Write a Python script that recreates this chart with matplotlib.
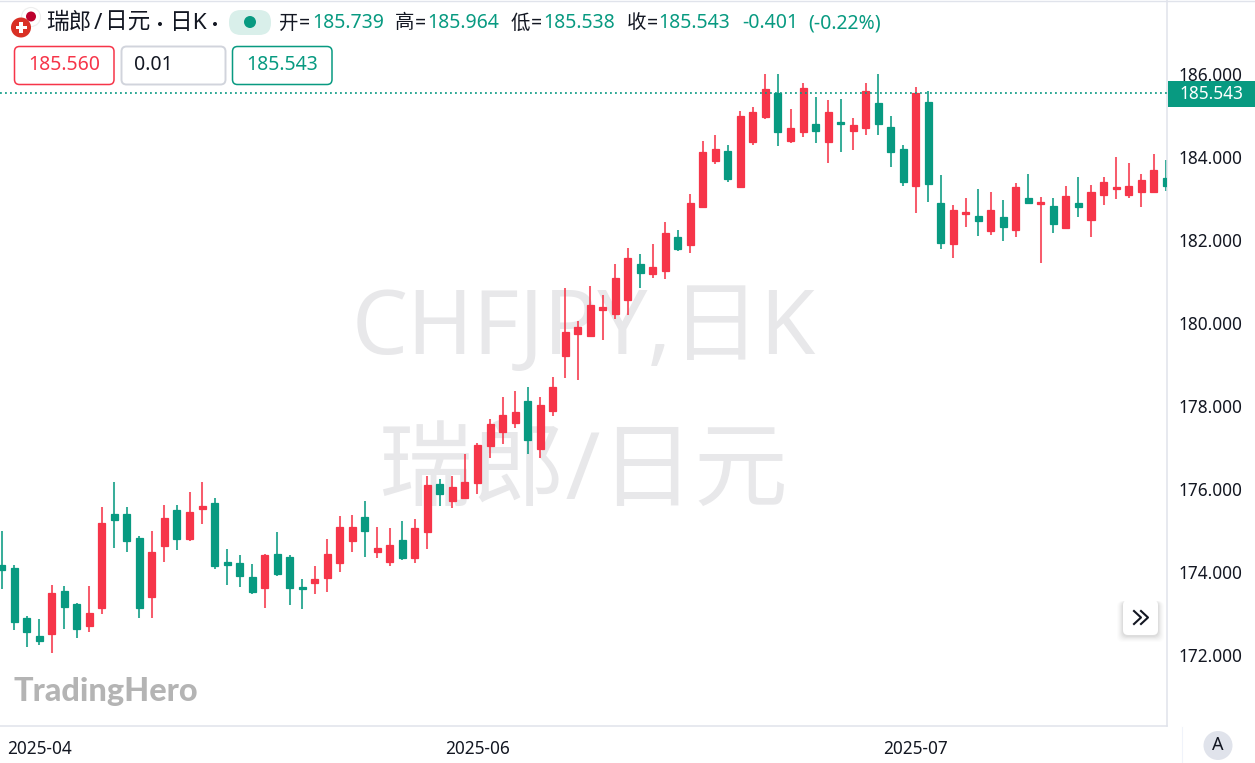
import numpy as np
import matplotlib
matplotlib.use('Agg')
import matplotlib.pyplot as plt
from matplotlib.patches import FancyBboxPatch, Circle, Rectangle

plt.rcParams['font.family'] = ['Noto Sans', 'Noto Sans CJK SC', 'DejaVu Sans']

opens = [174.16,174.10,172.87,172.45,172.50,173.54,173.21,172.69,173.13,175.39,
         175.40,174.81,173.38,174.62,175.48,174.80,175.52,175.66,174.23,174.20,
         173.87,173.61,174.43,174.35,173.64,173.72,173.85,174.21,174.75,175.31,
         174.48,174.23,174.76,174.32,174.95,176.12,175.70,175.79,176.14,177.04,
         177.36,177.60,178.13,176.97,177.89,179.20,179.74,179.68,180.31,180.22,
         180.55,181.43,181.18,181.26,182.08,181.88,182.79,183.90,184.15,183.29,
         184.36,184.98,185.55,184.40,184.60,184.81,184.38,184.85,184.64,184.70,
         185.30,184.73,184.19,183.30,185.33,182.89,181.90,182.64,182.58,182.23,
         182.56,182.25,183.03,182.88,182.82,182.29,182.91,182.48,183.09,183.24,
         183.08,183.16,183.17,183.49]
closes = [174.04,172.79,172.55,172.33,173.49,173.15,172.62,173.00,175.17,175.25,
          174.73,173.13,174.48,175.30,174.79,175.43,175.58,174.13,174.15,173.89,
          173.52,174.41,173.95,173.61,173.59,173.83,174.43,175.07,175.08,174.98,
          174.57,174.64,174.34,175.05,176.08,175.87,176.05,176.16,177.05,177.56,
          177.77,177.85,177.18,178.02,178.46,179.79,179.91,180.43,180.38,181.10,
          181.56,181.22,181.35,182.17,181.80,182.91,184.14,184.19,183.47,184.99,
          185.10,185.64,184.60,184.72,185.67,184.64,185.09,184.81,184.77,185.61,
          184.81,184.13,183.40,185.55,183.36,181.94,182.72,182.68,182.46,182.73,
          182.32,183.28,182.91,182.92,182.38,183.06,182.79,183.16,183.41,183.28,
          183.30,183.45,183.70,183.31]
highs = [174.98,174.16,172.93,172.85,173.67,173.66,173.24,173.65,175.57,176.16,
         175.57,174.85,174.97,175.61,175.60,175.92,176.16,175.77,174.54,174.40,
         174.18,174.42,174.95,174.40,173.83,174.14,174.78,175.35,175.37,175.71,
         175.09,175.05,175.23,175.27,176.31,176.23,176.32,176.84,177.10,177.68,
         178.22,178.35,178.45,178.22,178.71,180.85,180.06,180.89,180.68,181.43,
         181.81,181.66,181.91,182.44,182.25,183.11,184.39,184.55,184.31,185.13,
         185.22,186.02,186.00,185.16,185.79,185.46,185.38,185.42,184.96,185.80,
         186.02,185.01,184.31,185.70,185.59,183.57,182.84,183.03,183.24,183.17,
         182.97,183.37,183.61,183.05,183.02,183.30,183.53,183.33,183.52,184.02,
         183.86,183.61,184.07,183.94]
lows = [173.57,172.60,172.17,172.24,172.04,172.61,172.40,172.54,172.99,174.57,
        174.47,172.87,172.89,174.24,174.52,174.74,175.15,174.06,173.68,173.64,
        173.46,173.13,173.90,173.20,173.09,173.46,173.50,173.98,174.47,174.36,
        174.32,174.14,174.28,174.20,174.54,175.58,175.54,175.77,175.87,176.75,
        177.09,177.47,176.84,176.75,177.75,178.67,178.63,179.68,179.59,180.11,
        180.19,180.85,181.10,181.07,181.75,181.68,182.79,183.84,183.41,183.27,
        184.31,184.93,184.27,184.34,184.50,184.34,183.87,184.13,184.18,184.53,
        184.55,183.77,183.32,182.65,182.93,181.78,181.58,182.33,182.09,182.13,
        181.97,182.08,182.88,181.46,182.18,182.29,182.56,182.07,182.86,183.00,
        183.03,182.81,183.17,183.19]

y_ticks = [172, 174, 176, 178, 180, 182, 184, 186]
x_tick_pos = [3, 38, 73]
x_tick_labels = ['2025-04', '2025-06', '2025-07']
last_price = 185.543

RED = '#f63549'
GREEN = '#089a81'
LINE = '#e0e3eb'
WM = '#e8e8ea'
W, H = 1255, 763

fig = plt.figure(figsize=(W / 100, H / 100), dpi=100, facecolor='white')

# pixel axes behind the chart, for the watermark
bg = fig.add_axes([0, 0, 1, 1], zorder=0)
bg.set_xlim(0, W)
bg.set_ylim(H, 0)
bg.axis('off')
bg.text(584, 331, 'CHFJPY,日K', fontsize=64, color=WM, ha='center', va='center')
bg.text(583, 475, '瑞郎/日元', fontsize=67.5, color=WM, ha='center', va='center')
bg.text(14, 691, 'TradingHero', fontsize=23.3, color='#b4b4b4', fontweight='black',
        family='Lato', ha='left', va='center')

# the chart
ax = fig.add_axes([0, 1 - 726 / H, 1167 / W, 726 / H], zorder=1)
ax.patch.set_alpha(0)
x = np.arange(len(opens))
o = np.array(opens)
c = np.array(closes)
colors = [RED if a >= b else GREEN for a, b in zip(c, o)]
ax.vlines(x, lows, highs, colors=colors, linewidth=1.45, alpha=0.8, zorder=2)
ax.bar(x, np.abs(c - o), bottom=np.minimum(o, c), width=0.56, color=colors,
       edgecolor=colors, linewidth=0.9, zorder=3)
ax.axhline(last_price, color=GREEN, linewidth=1.2, linestyle=(0, (1.1, 1.9)), zorder=4)

ax.set_xlim(-0.136, 93.07)
ax.set_ylim(170.275, 187.798)
ax.yaxis.tick_right()
ax.set_yticks(y_ticks)
ax.set_yticklabels(['%.3f' % v for v in y_ticks])
ax.set_xticks(x_tick_pos)
ax.set_xticklabels(x_tick_labels)
ax.tick_params(axis='y', length=0, pad=8.5, labelsize=12.4, labelcolor='#131722')
ax.tick_params(axis='x', length=0, pad=10, labelsize=12.4, labelcolor='#131722')
for name, sp in ax.spines.items():
    sp.set_visible(name in ('right', 'bottom'))
    sp.set_color(LINE)
    sp.set_linewidth(1.1)

# pixel axes on top, for the header and the buttons
ui = fig.add_axes([0, 0, 1, 1], zorder=2)
ui.set_xlim(0, W)
ui.set_ylim(H, 0)
ui.axis('off')
ui.patch.set_alpha(0)

ui.plot([0, W], [0.5, 0.5], color=LINE, lw=1)
ui.plot([1182, 1182], [727, H], color='#f0f3fa', lw=0.8)

# price label on the axis
ui.add_patch(Rectangle((1167.5, 80.7), W - 1167.5, 26.6, color=GREEN, lw=0))
ui.text(1211.5, 94, '%.3f' % last_price, color='white', fontsize=12.4, fontweight='semibold',
        ha='center', va='center')

# currency icon
ui.add_patch(Circle((31, 17), 9.5, fc='white', ec='#eeeeee', lw=0.8))
ui.add_patch(Circle((31, 16.5), 5, fc='#bc002d', lw=0))
ui.add_patch(Circle((21, 27.5), 10, fc='#d93025', lw=0))
ui.add_patch(Rectangle((15.5, 25.8), 11, 3.6, fc='white', lw=0))
ui.add_patch(Rectangle((19.2, 22), 3.6, 11, fc='white', lw=0))

# title row
for tx, s in [(46, '瑞郎'), (94, '/'), (105, '日元'), (170.5, '日K')]:
    ui.text(tx, 23.5, s, fontsize=16.3, color='#131722', ha='left', va='center')
for tx in [160, 215]:
    ui.add_patch(Circle((tx, 24), 2, fc='#131722', lw=0))
ui.add_patch(FancyBboxPatch((229, 10), 42, 25, boxstyle='round,pad=0,rounding_size=12',
                            fc='#d9efea', lw=0))
ui.add_patch(Circle((250, 22), 6, fc=GREEN, lw=0))

for tx, s in [(278.5, '开'), (394.5, '高'), (510.5, '低'), (626.5, '收')]:
    ui.text(tx, 23.5, s, fontsize=14, color='#131722', ha='left', va='center')
for tx in [298.5, 414.5, 530.5, 646.5]:
    ui.text(tx, 23.5, '=', fontsize=14, color='#131722', fontweight='bold', ha='left', va='center')
for tx, s in [(312, '185.739'), (427, '185.964'), (543, '185.538'), (658.5, '185.543'),
              (742, '-0.401'), (808, '(-0.22%)')]:
    ui.text(tx, 23.5, s, fontsize=14, color=GREEN, ha='left', va='center')

# order boxes
for bx, bw, ec, lw in [(14.5, 99.5, RED, 1.1), (121.5, 104, '#d1d4dc', 1.4), (232.5, 99.5, GREEN, 1.1)]:
    ui.add_patch(FancyBboxPatch((bx, 46.5), bw, 38, boxstyle='round,pad=0,rounding_size=5',
                                fc='white', ec=ec, lw=lw))
ui.text(64, 65.5, '185.560', fontsize=14, color=RED, ha='center', va='center')
ui.text(134, 65.5, '0.01', fontsize=14, color='#131722', ha='left', va='center')
ui.text(282, 65.5, '185.543', fontsize=14, color=GREEN, ha='center', va='center')

# scroll button
for off, a in [(6, 0.012), (5, 0.015), (4, 0.02), (3, 0.025), (2, 0.03), (1, 0.03)]:
    ui.add_patch(FancyBboxPatch((1123 - off, 601), 35 + 2 * off, 35 + off,
                                boxstyle='round,pad=0,rounding_size=6', fc='black', alpha=a, lw=0))
ui.add_patch(FancyBboxPatch((1123, 600), 35, 35, boxstyle='round,pad=0,rounding_size=5',
                            fc='white', lw=0))
ui.plot([1134, 1141, 1134], [611, 617.5, 624], color='#131722', lw=1.5)
ui.plot([1141, 1148, 1141], [611, 617.5, 624], color='#131722', lw=1.5)

# auto scale button
ui.add_patch(Circle((1218, 745.5), 14.5, fc=LINE, lw=0))
ui.text(1218, 745.5, 'A', fontsize=13, color='#131722', ha='center', va='center')

fig.savefig('out.png', dpi=100)
